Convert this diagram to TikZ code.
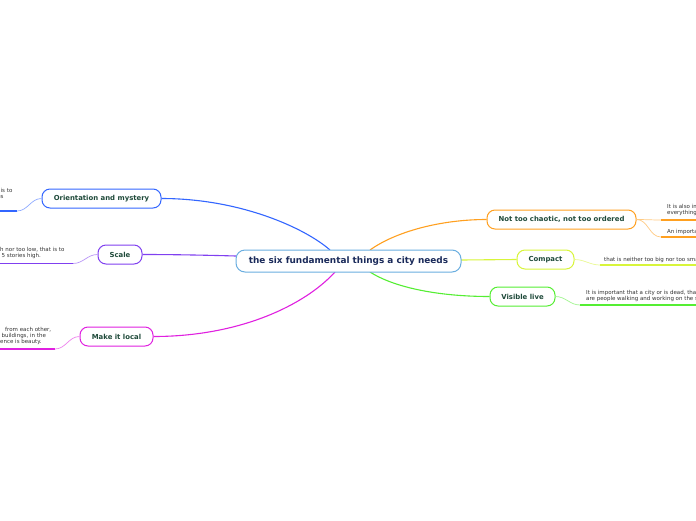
\documentclass[tikz,border=0pt]{standalone}
\usepackage{fontspec}
\setmainfont{DejaVu Sans}
\definecolor{cbord}{HTML}{6AAEE0}
\definecolor{ctext}{HTML}{1A2A5A}
\definecolor{ltext}{HTML}{1F4A3A}
\definecolor{leafgray}{HTML}{333333}
\definecolor{cblue}{HTML}{3366FF}
\definecolor{cpurple}{HTML}{8040F0}
\definecolor{cmag}{HTML}{E020E0}
\definecolor{corange}{HTML}{FFA020}
\definecolor{cyellow}{HTML}{D8F53A}
\definecolor{cgreen}{HTML}{55EE33}
\tikzset{
  topic/.style={draw=#1, line width=1pt, rounded corners=8pt, fill=white, minimum height=19pt,
    inner sep=0pt, text=ltext, font=\fontsize{6.9}{8}\selectfont\bfseries},
  central/.style={draw=cbord, line width=1pt, rounded corners=9pt, fill=white, minimum height=22pt,
    minimum width=225pt, inner sep=0pt, text=ctext, font=\fontsize{8.9}{10}\selectfont\bfseries},
  branch/.style={draw=#1, line width=1.1pt},
  twig/.style={draw=#1!55, line width=0.7pt},
  uline/.style={draw=#1, line width=1.6pt},
  leaftext/.style={inner sep=0pt, text=leafgray, align=left, font=\fontsize{5.5}{6.1}\selectfont},
}
\begin{document}
\begin{tikzpicture}[x=1pt,y=-1pt]
\useasboundingbox (0,0) rectangle (696,520);
\clip (0,0) rectangle (696,520);
\fill[white] (0,0) rectangle (696,520);

\coordinate (cN1) at (330,250);
\coordinate (cN2) at (370,250);
\coordinate (cS1) at (335,272);
\coordinate (cS2) at (370,272);
\coordinate (cW) at (236,256);
\coordinate (cE) at (461,260);

% topic nodes
\node[topic=cblue, minimum width=119pt] (orient) at (101.5,198.5) {Orientation and mystery};
\node[topic=cpurple, minimum width=44pt] (scale) at (120,254.5) {Scale};
\node[topic=cmag, minimum width=73pt] (local) at (116.5,336.5) {Make it local};
\node[topic=corange, minimum width=149pt] (chaos) at (561.5,219.5) {Not too chaotic, not too ordered};
\node[topic=cyellow, minimum width=57pt] (compact) at (545.5,259.5) {Compact};
\node[topic=cgreen, minimum width=65pt] (live) at (522.5,296.5) {Visible live};

\draw[branch=cblue] (cN1) .. controls (305,228) and (240,198.5) .. (orient.east);
\draw[branch=cpurple] (cW) .. controls (200,255) and (170,254.5) .. (scale.east);
\draw[branch=cmag] (cS1) .. controls (305,305) and (240,336.5) .. (local.east);
\draw[branch=corange] (cN2) .. controls (395,232) and (440,219.5) .. (chaos.west);
\draw[branch=cyellow] (cE) -- (compact.west);
\draw[branch=cgreen] (cS2) .. controls (395,288) and (440,296.5) .. (live.west);

% central node
\node[central] (c) at (348.5,261) {the six fundamental things a city needs};

% leaves: left
\node[leaftext, anchor=north west] (t1) at (0.5,188.3)
  {\llap{Orientation is very important, the key to orientation and mystery }is to\\
   \llap{know where you are and still discover new place}s\\
   \llap{in the city.}};
\coordinate (u1) at (17,211);
\draw[twig=cblue] (orient.west) to[out=180,in=0] (u1);
\draw[uline=cblue] (u1) -- ([xshift=-5pt]u1 -| t1.west);

\node[leaftext, anchor=north west] (t2) at (0,246.8)
  {\llap{It should be neither too hig}h nor too low, that is to\\
   \hspace{1.5pt}\llap{say between 3 and }5 stories high.};
\coordinate (u2) at (73,263.5);
\draw[twig=cpurple] (scale.west) to[out=180,in=0] (u2);
\draw[uline=cpurple] (u2) -- ([xshift=-5pt]u2 -| t2.west);

\node[leaftext, anchor=north west] (t3) at (0,326.8)
  {\hspace{5pt}\llap{The buildings should be different\hspace{6pt}}from each other,\\
   \hspace{1.5pt}\llap{with a mix of old and new\hspace{3pt}}buildings, in the\\
   \llap{end, the differ}ence is beauty.};
\coordinate (u3) at (55,349);
\draw[twig=cmag] (local.west) to[out=180,in=0] (u3);
\draw[uline=cmag] (u3) -- ([xshift=-5pt]u3 -| t3.west);

% leaves: right
\node[leaftext, anchor=north west] (t4) at (667,204)
  {It is also important that there is a balance,\\ everything in its place.};
\coordinate (u4) at (661,220);
\draw[twig=corange] (chaos.east) to[out=0,in=180] (u4);
\draw[uline=corange] (u4) -- ([xshift=5pt]u4 -| t4.east);

\node[leaftext, anchor=north west] (t5) at (667,229)
  {An important thing is the mix of uses.};
\coordinate (u5) at (661,237);
\draw[twig=corange] (chaos.east) to[out=0,in=180] (u5);
\draw[uline=corange] (u5) -- ([xshift=5pt]u5 -| t5.east);

\node[leaftext, anchor=north west] (t6) at (604,257)
  {that is neither too big nor too small.};
\coordinate (u6) at (600,265);
\draw[twig=cyellow] (compact.east) to[out=0,in=180] (u6);
\draw[uline=cyellow] (u6) -- ([xshift=5pt]u6 -| t6.east);

\node[leaftext, anchor=north west] (t7) at (586,290.5)
  {It is important that a city or is dead, that is, that there\\ are people walking and working on the streets.};
\coordinate (u7) at (580,305);
\draw[twig=cgreen] (live.east) to[out=0,in=180] (u7);
\draw[uline=cgreen] (u7) -- ([xshift=5pt]u7 -| t7.east);
\end{tikzpicture}
\end{document}
